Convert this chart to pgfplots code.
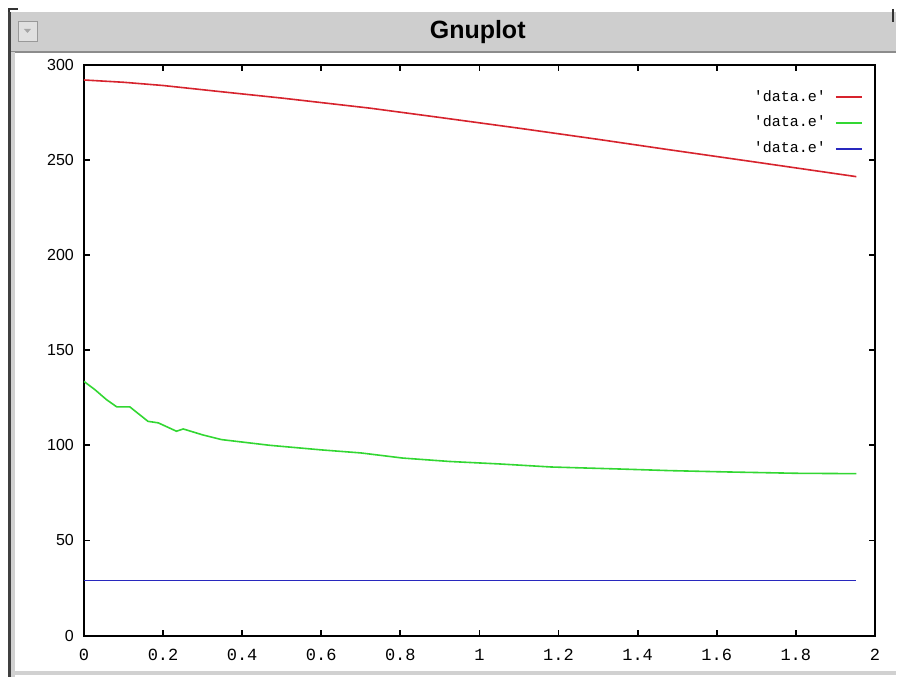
\documentclass[border=0pt]{standalone}
\usepackage{pgfplots}
\pgfplotsset{compat=1.18}
\usepackage{fontspec}
\setmainfont{Liberation Sans}
\newfontfamily\monofont{Liberation Mono}

\definecolor{gpred}{RGB}{215,35,45}
\definecolor{gpgreen}{RGB}{50,215,50}
\definecolor{gpblue}{RGB}{40,40,190}
\definecolor{barbg}{RGB}{206,206,206}

\begin{document}
\begin{tikzpicture}
% window frame, in screen pixels (1px = 0.5pt), axis corner at pixel (84,636)
\begin{scope}[shift={(-42pt,318pt)}, x=0.5pt, y=-0.5pt]
  \fill[white] (0,0) rectangle (897,677);
  \fill[barbg] (10,12) rectangle (897,52);
  \draw[black!45, line width=0.6pt] (10,52) -- (897,52);
  \draw[black!80, line width=1pt] (9,20) -- (9,9) -- (18,9);
  \draw[black!80, line width=1pt] (894,9) -- (894,22);
  \fill[black!75] (8,12) rectangle (11,677);
  \fill[black!18] (11,52) rectangle (15,677);
  \fill[black!18] (15,671) rectangle (897,675);
  \filldraw[fill=black!12, draw=black!40] (18,21) rectangle (37,41);
  \fill[black!35] (24,29) -- (31,29) -- (27.5,33) -- cycle;
  \node[font=\bfseries\fontsize{12.5}{13}\selectfont] at (478,32) {Gnuplot};
\end{scope}

\begin{axis}[
    at={(0,0)}, anchor=south west,
    scale only axis,
    width=395.75pt, height=285.6pt,
    xmin=0, xmax=2, ymin=0, ymax=300,
    xtick={0,0.2,...,2}, ytick={0,50,...,300},
    axis line style={line width=1pt},
    major tick length=3pt,
    tick style={line width=0.9pt, black},
    /pgf/number format/assume math mode=true,
    xticklabel style={font=\monofont\fontsize{8.5}{9}\selectfont,
        text height=6pt, text depth=0pt, yshift=-3pt},
    yticklabel style={font=\fontsize{8}{9}\selectfont, xshift=-1.5pt},
    legend plot pos=right,
    legend cell align=right,
    legend image code/.code={\draw[#1] (0pt,0pt) -- (13pt,0pt);},
    legend style={draw=none, fill=none, at={(axis description cs:1,1)},
        anchor=north east, xshift=-5pt, yshift=-10pt,
        font=\monofont\fontsize{7.5}{8}\selectfont,
        row sep=3pt, column sep=3pt, inner sep=1pt,
        nodes={inner sep=1.5pt}},
]
\addplot[gpred, line width=0.8pt] coordinates {
    (0,292.0) (0.1,290.8) (0.2,289.1) (0.344,285.9) (0.5,282.5)
    (0.723,277.2) (0.9,272.3) (1.102,266.6) (1.3,260.8)
    (1.481,255.3) (1.7,248.8) (1.953,241.2)};
\addlegendentry{'data.e'}
\addplot[gpgreen, line width=0.8pt] coordinates {
    (0,133.6) (0.028,129.2) (0.057,124.0) (0.083,120.2) (0.116,120.2)
    (0.162,112.6) (0.188,111.8) (0.234,107.4) (0.251,108.6) (0.30,105.5)
    (0.348,103.0) (0.47,100.0) (0.60,97.6) (0.70,96.0) (0.806,93.3)
    (0.925,91.5) (1.051,90.2) (1.182,88.6) (1.362,87.5) (1.481,86.7)
    (1.627,86.0) (1.80,85.3) (1.953,85.1)};
\addlegendentry{'data.e'}
\addplot[gpblue, line width=0.8pt] coordinates {(0,29) (1.953,29)};
\addlegendentry{'data.e'}
\end{axis}
\end{tikzpicture}
\end{document}
